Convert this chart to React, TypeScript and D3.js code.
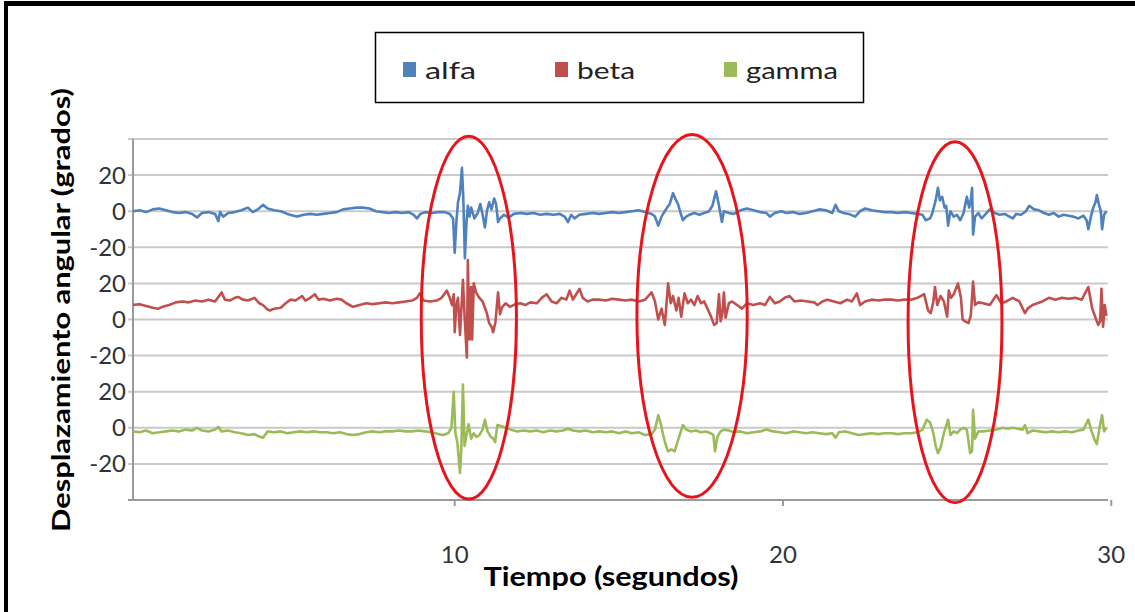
import React from "react";
import * as d3 from "d3";

// ---------- data (time in s, angle in degrees) ----------
const seriesNames = ["alfa", "beta", "gamma"];
const seriesColors = ["#4F81BD", "#C0504D", "#9BBB59"];
const seriesOffsets = [160, 100, 40]; // stacking offset of each trace on the shared axis
const localTicks = [-20, 0, 20];
const xTicks = [10, 20, 30];

const alfaData: [number, number][] = [
  [0.2,0],[0.4,0.5],[0.6,-0.5],[0.8,1],[1.0,1.5],[1.2,0.5],[1.4,-0.5],[1.6,-1],[1.8,-0.5],[2.0,-1.5],
  [2.15,-3.5],[2.3,-1],[2.5,-0.5],[2.7,-1.5],[2.8,-5.5],[2.85,-0.5],[2.95,-3],[3.1,-1],[3.3,-0.5],[3.5,0.5],
  [3.7,2],[3.85,-0.5],[4.0,1],[4.16,3.5],[4.3,1.5],[4.5,0.5],[4.7,0],[4.9,-1.5],[5.1,-2.5],[5.2,-3],
  [5.4,-2],[5.6,-1.5],[5.8,-2],[6.0,-1.5],[6.2,-1],[6.4,-0.5],[6.6,1],[6.8,1.5],[7.0,2],[7.2,2],
  [7.4,1.5],[7.6,0],[7.8,-0.5],[8.0,-1],[8.2,-0.5],[8.4,-1],[8.6,-0.5],[8.75,-2],[8.85,-4],[8.95,-1.5],
  [9.1,-0.5],[9.3,-1],[9.5,-0.5],[9.7,-0.5],[9.85,-1.5],[9.95,-4],[10.0,-23],[10.05,-6],[10.1,5],[10.16,10],
  [10.22,24],[10.26,8],[10.31,-26],[10.36,-6],[10.4,3],[10.45,-3],[10.5,2],[10.6,-4],[10.7,-1],[10.78,4],
  [10.85,-2],[10.92,-9],[10.98,0],[11.05,5],[11.12,1],[11.2,7],[11.26,4],[11.32,-6],[11.38,-4],[11.5,-2],
  [11.65,-3.5],[11.8,-1.5],[12.0,-1],[12.2,-1.5],[12.4,-1],[12.6,-2],[12.8,-1.5],[13.0,-2],[13.2,-1.5],[13.35,-3],
  [13.45,-6],[13.55,-2],[13.65,-4],[13.8,-2],[14.0,-1.5],[14.2,-1],[14.4,-1.5],[14.6,-1],[14.8,-0.5],[15.0,-1],
  [15.2,-0.5],[15.4,0],[15.6,0.5],[15.8,-0.5],[16.0,-1.5],[16.1,-3],[16.2,-8],[16.3,-3],[16.4,0],[16.47,2],
  [16.55,4],[16.65,10],[16.72,7],[16.8,4],[16.88,-1],[16.95,-5],[17.05,-3],[17.15,-2],[17.3,-1],[17.45,-2],
  [17.6,-1],[17.75,0],[17.85,3],[17.96,11],[18.05,3],[18.14,-6],[18.2,0],[18.35,-1],[18.5,-1.5],[18.7,0.5],
  [18.9,1.5],[19.1,0.5],[19.3,-0.5],[19.5,-1],[19.6,-3],[19.75,-1],[19.95,0],[20.1,-1],[20.3,-0.5],[20.5,-1.5],
  [20.7,-1],[20.9,0],[21.1,1],[21.3,0.5],[21.5,-1],[21.6,3.5],[21.7,0],[21.85,-1],[22.0,-1.5],[22.2,-3],
  [22.35,0],[22.5,1.5],[22.7,0.5],[22.9,0],[23.1,-0.5],[23.3,-0.5],[23.5,-1],[23.7,-0.5],[23.9,-1],[24.1,-1.5],
  [24.25,-2],[24.35,-5],[24.48,-4],[24.55,-1],[24.65,6],[24.72,13],[24.78,6],[24.85,8],[24.92,2],[24.97,3],
  [25.03,-8],[25.1,0],[25.2,-3],[25.3,-2],[25.4,-5],[25.5,-1],[25.6,8],[25.67,2],[25.72,6],[25.76,13],
  [25.79,-13],[25.85,-3],[25.95,-1],[26.05,-4],[26.15,-2],[26.3,1],[26.45,-1],[26.6,-2],[26.75,-1.5],[26.9,-3],
  [27.0,-4],[27.1,-1.5],[27.25,-2],[27.4,0],[27.5,3],[27.65,1],[27.8,0.5],[27.95,-1],[28.1,-2],[28.25,-1],
  [28.4,-3],[28.55,-2],[28.7,-2.5],[28.85,-3],[29.0,-4],[29.15,-2.5],[29.25,-5],[29.3,-10],[29.38,-3],[29.45,2],
  [29.52,5],[29.56,9],[29.62,4],[29.68,0],[29.72,-10],[29.78,-2],[29.85,0],
];

const betaData: [number, number][] = [
  [0.2,8],[0.4,8.5],[0.6,7.5],[0.8,6.5],[0.96,6],[1.1,7],[1.3,8],[1.5,9.5],[1.7,10],[1.9,9.5],
  [2.1,10.5],[2.3,10],[2.5,11],[2.7,10],[2.9,15],[3.0,11],[3.15,10.5],[3.3,12],[3.4,12.5],[3.55,11],
  [3.7,10.5],[3.9,12],[4.05,9],[4.16,8],[4.3,5.5],[4.37,5],[4.5,6],[4.7,6.5],[4.85,9],[5.0,11],
  [5.15,10.5],[5.35,13],[5.45,10.5],[5.6,12],[5.74,14],[5.85,11],[6.0,11.5],[6.2,10.5],[6.4,11.5],[6.55,11],
  [6.7,9],[6.9,7],[7.1,8],[7.3,9],[7.5,8.5],[7.7,9],[7.9,9.5],[8.1,9],[8.3,9.5],[8.5,10],
  [8.7,10.5],[8.85,12],[8.94,14.5],[9.05,10.5],[9.25,10],[9.45,10.5],[9.6,12],[9.76,16],[9.85,12],[9.92,8],
  [9.97,14],[10.0,-7],[10.05,8],[10.1,12],[10.16,-8.5],[10.2,5],[10.25,22],[10.3,2],[10.37,-21],[10.4,33],
  [10.45,-11],[10.5,18],[10.53,-11],[10.58,20],[10.65,15],[10.75,12],[10.85,10],[10.98,3.5],[11.05,-2],[11.12,-4],
  [11.17,-7],[11.24,-1.5],[11.32,15],[11.38,3],[11.45,7],[11.55,9],[11.68,7],[11.85,8.5],[12.0,9],[12.15,8],
  [12.3,9.5],[12.5,9],[12.65,12],[12.8,14],[12.95,10],[13.1,9],[13.25,12],[13.4,11],[13.5,16],[13.6,11],
  [13.7,14],[13.8,17],[13.9,12],[14.05,10],[14.2,11],[14.4,11],[14.6,10.5],[14.8,11.5],[15.0,11],[15.2,10.5],
  [15.4,11],[15.6,10],[15.8,11],[16.0,15],[16.1,10],[16.2,0],[16.3,6],[16.4,-3],[16.5,20],[16.58,9],
  [16.65,13],[16.75,5],[16.82,12],[16.9,1.5],[17.0,14.5],[17.1,9],[17.2,11],[17.3,8],[17.4,13],[17.5,9],
  [17.6,10],[17.7,6],[17.8,2],[17.9,-3],[17.98,-2],[18.05,14],[18.1,-1],[18.15,3],[18.2,15],[18.25,1],
  [18.35,9],[18.45,10],[18.6,8],[18.75,6],[18.9,9],[19.1,8],[19.3,9],[19.45,8],[19.6,12.5],[19.75,9],
  [19.9,10],[20.05,12],[20.2,13],[20.35,10],[20.55,10.5],[20.75,10],[20.95,9.5],[21.05,8],[21.2,10],[21.35,11],
  [21.55,10],[21.75,9],[21.95,11],[22.1,10],[22.25,14.5],[22.35,8],[22.5,10],[22.7,11],[22.9,10.5],[23.1,11],
  [23.3,11],[23.5,10.5],[23.7,11],[23.9,11],[24.1,12],[24.3,14],[24.42,5],[24.5,3.5],[24.58,10],[24.63,18],
  [24.7,8],[24.8,13],[24.9,10],[25.0,1.5],[25.05,16],[25.12,12],[25.2,14],[25.33,20],[25.42,12],[25.47,0],
  [25.55,-1],[25.65,-2],[25.72,2],[25.79,21],[25.85,8],[25.95,9.5],[26.1,9],[26.3,8],[26.5,13.5],[26.65,9],
  [26.8,10],[27.0,12],[27.2,10],[27.37,3.5],[27.45,6],[27.6,8],[27.75,9],[27.9,10],[28.1,12],[28.3,11],
  [28.5,12],[28.7,11.5],[28.9,12],[29.1,11],[29.3,18],[29.42,6],[29.52,1],[29.6,-3],[29.66,-1],[29.7,17],
  [29.75,-4],[29.8,8],[29.85,2],
];

const gammaData: [number, number][] = [
  [0.2,-2],[0.4,-2.5],[0.6,-1.5],[0.8,-3],[1.0,-2.5],[1.2,-2],[1.4,-1.5],[1.6,-2],[1.8,-1],[2.0,-1.5],
  [2.15,0],[2.3,-1.5],[2.5,-2],[2.7,-1],[2.8,0.5],[2.9,-2],[3.1,-1.5],[3.3,-2.5],[3.5,-3],[3.7,-4],
  [3.9,-3.5],[4.0,-4.5],[4.16,-5.5],[4.3,-2],[4.5,-2.5],[4.7,-2],[4.9,-3],[5.1,-2.5],[5.3,-2],[5.5,-2.5],
  [5.7,-2],[5.9,-2.5],[6.1,-2.5],[6.3,-3],[6.5,-2.5],[6.7,-3.5],[6.9,-4],[7.1,-3.5],[7.3,-2.5],[7.5,-2],
  [7.7,-2.5],[7.9,-2],[8.1,-2],[8.3,-1.5],[8.5,-2],[8.7,-2],[8.9,-1.5],[9.1,-2],[9.3,-2.5],[9.5,-3.5],
  [9.65,-4],[9.8,-3],[9.9,0],[9.97,20],[10.02,-3],[10.08,-8],[10.16,-25],[10.2,-12],[10.25,24],[10.3,-10],
  [10.35,-5],[10.42,2],[10.5,-6],[10.58,-3],[10.66,-5],[10.75,-4],[10.85,-1],[10.92,4.5],[11.0,-2],[11.1,-5],
  [11.18,-6],[11.23,-8],[11.3,1.5],[11.4,1],[11.55,0],[11.7,-1],[11.9,-2],[12.1,-1.5],[12.3,-2],[12.5,-1.5],
  [12.7,-2.5],[12.9,-1.5],[13.1,-2],[13.3,-1.5],[13.45,-0.5],[13.6,-1.5],[13.8,-2],[14.0,-1.5],[14.2,-2.5],[14.4,-2],
  [14.6,-2.5],[14.8,-2],[15.0,-3],[15.2,-2],[15.4,-3],[15.6,-2.5],[15.8,-4],[16.0,-3.5],[16.1,-1],[16.2,7],
  [16.28,2],[16.35,-4],[16.42,-9],[16.5,-13],[16.6,-12],[16.7,-13],[16.8,-7],[16.95,1.5],[17.05,-1],[17.2,-2],
  [17.35,-1.5],[17.5,-2.5],[17.65,-2],[17.8,-3],[17.88,-4],[17.93,-13],[18.0,-5],[18.1,-2],[18.2,-1],[18.35,-1.5],
  [18.5,-2.5],[18.7,-2],[18.9,-3],[19.1,-2.5],[19.3,-2],[19.5,-1],[19.7,-2],[19.9,-2.5],[20.1,-3],[20.3,-2],
  [20.5,-2.5],[20.7,-3],[20.9,-2.5],[21.1,-3],[21.3,-3.5],[21.5,-3],[21.6,-5.5],[21.7,-2.5],[21.9,-2],[22.1,-3],
  [22.3,-4],[22.5,-3.5],[22.7,-3],[22.9,-3.5],[23.1,-3],[23.3,-3],[23.5,-3.5],[23.7,-3],[23.9,-3],[24.1,-2.5],
  [24.25,-1],[24.38,4.5],[24.48,3],[24.58,-3],[24.65,-10],[24.72,-14],[24.8,-11],[24.9,-3],[25.03,4.5],[25.1,-4],
  [25.2,-2],[25.3,-3],[25.4,-1],[25.5,0],[25.6,-1],[25.7,-14],[25.76,-13],[25.79,10],[25.85,-6],[25.95,-2],
  [26.1,-2],[26.3,-1.5],[26.5,-1],[26.7,0],[26.85,-0.5],[27.0,0],[27.15,-0.5],[27.3,-1],[27.37,1.5],[27.45,-3],
  [27.6,-1.5],[27.8,-2],[28.0,-2.5],[28.2,-2],[28.4,-2.5],[28.6,-2],[28.8,-2.5],[29.0,-1.5],[29.15,-1],[29.3,4.5],
  [29.4,-2],[29.5,-7],[29.56,-9],[29.65,1],[29.72,7],[29.78,-2],[29.85,0],
];

const seriesData = [alfaData, betaData, gammaData];

// highlighted bursts: centre time, half-width (s), centre on shared axis, half-height
const burstCentres = [10.43, 17.23, 25.24];
const burstHalfWidths = [1.45, 1.68, 1.43];
const burstMid = [101, 102, 98.5];
const burstHalfHeights = [100.5, 100.5, 100];

const W = 1135;
const H = 612;
const FONT = "Lato, 'Open Sans', sans-serif";

export default function App() {
  const x = d3.scaleLinear().domain([0.2, 29.9]).range([133, 1108]);
  const y = d3.scaleLinear().domain([0, 200]).range([500, 139]);
  const gridVals = d3.range(0, 201, 20);

  const yTicks: { v: number; label: string }[] = [];
  seriesOffsets.forEach((o) => localTicks.forEach((t) => yTicks.push({ v: o + t, label: String(t) })));

  const lines = seriesData.map((data, i) =>
    d3
      .line<[number, number]>()
      .x((d) => x(d[0]))
      .y((d) => y(d[1] + seriesOffsets[i]))(data) as string
  );

  const legendX = [403, 555, 724];
  const legendTextW = [51, 58, 92];

  return (
    <svg
      width={W}
      height={H}
      style={{ position: "absolute", left: 0, top: 0, background: "#fff" }}
    >
      <rect x={0} y={0} width={W} height={H} fill="#fff" />
      {/* frame */}
      <rect x={4} y={1} width={W - 4} height={5} fill="#000" />
      <rect x={4} y={1} width={4} height={H - 1} fill="#000" />

      {/* legend */}
      <rect x={375.5} y={32.5} width={488} height={70} fill="#fff" stroke="#000" strokeWidth={1.5} />
      {seriesNames.map((n, i) => (
        <g key={n}>
          <rect x={legendX[i]} y={62} width={13} height={15} fill={seriesColors[i]} />
          <text
            x={legendX[i] + 22}
            y={79}
            fontFamily={FONT}
            fontSize={24}
            fill="#222"
            textLength={legendTextW[i]}
            lengthAdjust="spacingAndGlyphs"
          >
            {n}
          </text>
        </g>
      ))}

      {/* grid */}
      {gridVals.map((v) => (
        <line
          key={v}
          x1={128}
          x2={x(29.9)}
          y1={y(v)}
          y2={y(v)}
          stroke={v === 0 ? "#9a9a9a" : "#c9c9c9"}
          strokeWidth={2}
        />
      ))}
      <line x1={133} x2={133} y1={y(200)} y2={y(0)} stroke="#9a9a9a" strokeWidth={2} />
      {xTicks.map((t) => (
        <g key={t}>
          <line x1={x(t)} x2={x(t)} y1={y(0)} y2={y(0) + 6} stroke="#9a9a9a" strokeWidth={2} />
          <text
            x={x(t)}
            y={563}
            textAnchor="middle"
            fontFamily={FONT}
            fontSize={24}
            fill="#333"
          >
            {t}
          </text>
        </g>
      ))}
      {yTicks.map((t, i) => (
        <text
          key={i}
          x={126}
          y={y(t.v)}
          dy="0.35em"
          textAnchor="end"
          fontFamily={FONT}
          fontSize={24}
          fill="#333"
        >
          {t.label}
        </text>
      ))}

      {/* traces */}
      {lines.map((p, i) => (
        <path
          key={i}
          d={p}
          fill="none"
          stroke={seriesColors[i]}
          strokeWidth={2.6}
          strokeLinejoin="round"
        />
      ))}

      {/* highlight ellipses */}
      {burstCentres.map((c, i) => (
        <ellipse
          key={i}
          cx={x(c)}
          cy={y(burstMid[i])}
          rx={x(c + burstHalfWidths[i]) - x(c)}
          ry={y(burstMid[i] - burstHalfHeights[i]) - y(burstMid[i])}
          fill="none"
          stroke="#E8141B"
          strokeWidth={3}
        />
      ))}

      {/* axis titles */}
      <text
        x={611}
        y={586}
        textAnchor="middle"
        fontFamily={FONT}
        fontWeight="bold"
        fontSize={26}
        fill="#000"
        textLength={255}
        lengthAdjust="spacingAndGlyphs"
      >
        Tiempo (segundos)
      </text>
      <text
        transform="translate(70,310) rotate(-90)"
        textAnchor="middle"
        fontFamily={FONT}
        fontWeight="bold"
        fontSize={24}
        fill="#000"
        textLength={444}
        lengthAdjust="spacingAndGlyphs"
      >
        Desplazamiento angular (grados)
      </text>
    </svg>
  );
}
